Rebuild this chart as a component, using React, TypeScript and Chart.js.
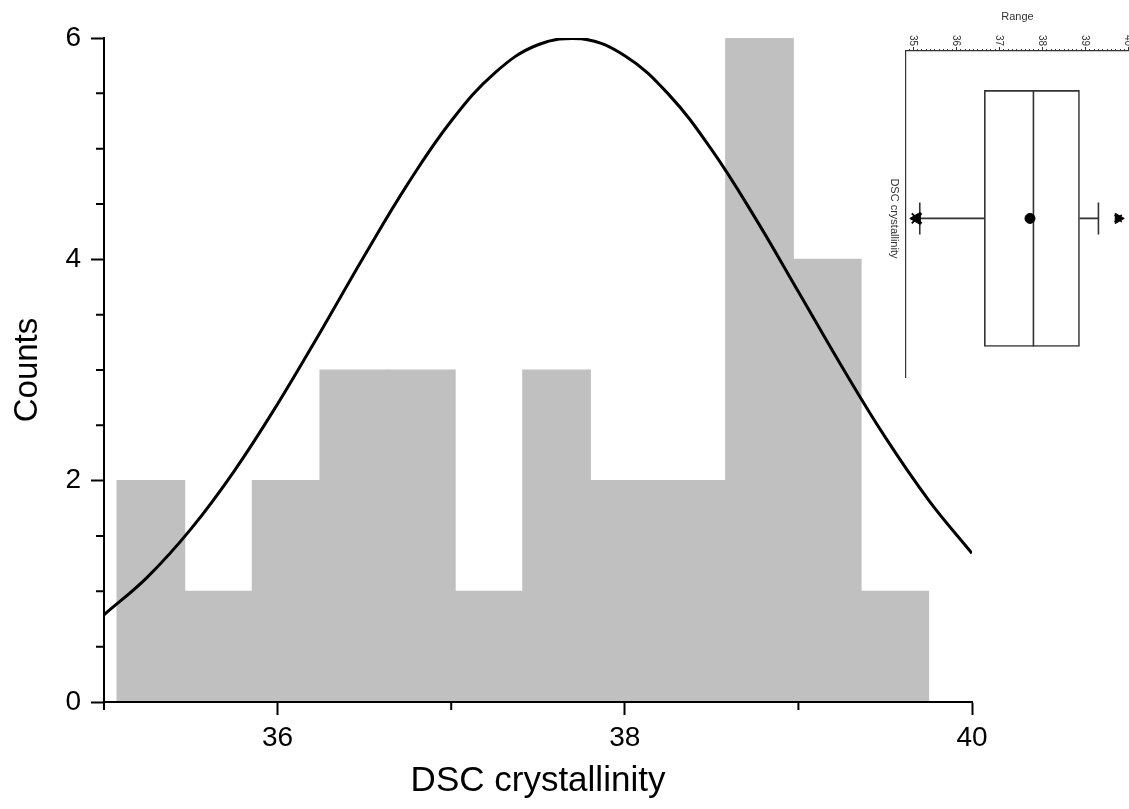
import React, { useEffect, useRef } from 'react';
import { Chart, registerables } from 'chart.js';

Chart.register(...registerables);

// ---------- Data ----------
const BIN_CENTERS = [35.27, 35.66, 36.049, 36.439, 36.828, 37.218, 37.607, 37.997, 38.387, 38.776, 39.166, 39.555];
const BIN_COUNTS = [2, 1, 2, 3, 3, 1, 3, 2, 2, 6, 4, 1];

const CURVE_X = [35, 35.25, 35.5, 35.75, 36, 36.25, 36.5, 36.75, 37, 37.25, 37.5, 37.75, 38, 38.25, 38.5, 38.75, 39, 39.25, 39.5, 39.75, 40];
const CURVE_Y = [0.788, 1.129, 1.562, 2.087, 2.693, 3.353, 4.033, 4.682, 5.25, 5.683, 5.939, 5.994, 5.84, 5.495, 4.991, 4.377, 3.707, 3.032, 2.393, 1.825, 1.343];

const X_MAJOR_TICKS = [36, 38, 40];
const X_MINOR_TICKS = [35, 37, 39];
const Y_MAJOR_TICKS = [0, 2, 4, 6];
const Y_MINOR_TICKS = [0.5, 1, 1.5, 2.5, 3, 3.5, 4.5, 5, 5.5];

// inset box plot statistics
const BOX_Q1 = 36.66;
const BOX_MEDIAN = 37.8;
const BOX_Q3 = 38.87;
const BOX_MEAN = 37.72;
const WHISKER_LOW = 35.16;
const WHISKER_HIGH = 39.31;
const DATA_MIN = 35.09;
const DATA_MAX = 39.77;
const INSET_MAJOR_TICKS = [35, 36, 37, 38, 39, 40];

const FONT = "'Liberation Sans', Arial, Helvetica, sans-serif";

const mainMinorTicks = {
  id: 'mainMinorTicks',
  afterDraw(chart: any) {
    const { ctx, scales } = chart;
    const xs = scales.x;
    const ys = scales.y;
    ctx.save();
    ctx.strokeStyle = '#000';
    ctx.lineWidth = 2;
    ctx.beginPath();
    X_MINOR_TICKS.forEach((v) => {
      const px = xs.getPixelForValue(v);
      ctx.moveTo(px, xs.top);
      ctx.lineTo(px, xs.top + 8);
    });
    Y_MINOR_TICKS.forEach((v) => {
      const py = ys.getPixelForValue(v);
      ctx.moveTo(ys.right, py);
      ctx.lineTo(ys.right - 8, py);
    });
    ctx.stroke();
    ctx.restore();
  },
};

const insetPlugin = {
  id: 'insetBox',
  afterDatasetDraw(chart: any, args: any) {
    if (args.index !== 0) return;
    const { ctx, scales } = chart;
    const xs = scales.x;
    const ys = scales.y;
    const cy = ys.getPixelForValue(1);
    const half = 128;
    const cap = 16;
    ctx.save();
    ctx.strokeStyle = '#333';
    ctx.lineWidth = 1.6;
    ctx.beginPath();
    // median
    const mx = xs.getPixelForValue(BOX_MEDIAN);
    ctx.moveTo(mx, cy - half);
    ctx.lineTo(mx, cy + half);
    // whiskers
    const q1 = xs.getPixelForValue(BOX_Q1);
    const q3 = xs.getPixelForValue(BOX_Q3);
    const wl = xs.getPixelForValue(WHISKER_LOW);
    const wh = xs.getPixelForValue(WHISKER_HIGH);
    ctx.moveTo(q1, cy);
    ctx.lineTo(wl, cy);
    ctx.moveTo(wl, cy - cap);
    ctx.lineTo(wl, cy + cap);
    ctx.moveTo(q3, cy);
    ctx.lineTo(wh, cy);
    ctx.moveTo(wh, cy - cap);
    ctx.lineTo(wh, cy + cap);
    ctx.stroke();
    ctx.restore();
  },
  afterDraw(chart: any) {
    const { ctx, scales } = chart;
    const xs = scales.x;
    const ys = scales.y;
    const axisY = xs.bottom;
    ctx.save();
    ctx.strokeStyle = '#333';
    ctx.lineWidth = 1;
    ctx.beginPath();
    for (let k = 349; k <= 400; k++) {
      const v = k / 10;
      if (v < xs.min || v > xs.max) continue;
      const px = Math.round(xs.getPixelForValue(v)) + 0.5;
      const len = k % 10 === 0 ? 4 : 2;
      ctx.moveTo(px, axisY);
      ctx.lineTo(px, axisY - len);
    }
    ctx.stroke();
    ctx.fillStyle = '#333';
    ctx.font = `10px ${FONT}`;
    INSET_MAJOR_TICKS.forEach((v) => {
      const px = xs.getPixelForValue(v);
      ctx.save();
      ctx.translate(px, axisY - 5);
      ctx.rotate(Math.PI / 2);
      ctx.textAlign = 'right';
      ctx.textBaseline = 'middle';
      ctx.fillText(String(v), 0, 0);
      ctx.restore();
    });
    // rotated category title
    ctx.save();
    ctx.font = `11px ${FONT}`;
    ctx.translate(ys.left + 34, ys.getPixelForValue(1));
    ctx.rotate(Math.PI / 2);
    ctx.textAlign = 'center';
    ctx.textBaseline = 'middle';
    ctx.fillText('DSC crystallinity', 0, 0);
    ctx.restore();
    ctx.restore();
  },
};

export default function App() {
  const mainRef = useRef<HTMLCanvasElement | null>(null);
  const insetRef = useRef<HTMLCanvasElement | null>(null);

  useEffect(() => {
    document.body.style.margin = '0';
    const main = new Chart(mainRef.current as HTMLCanvasElement, {
      type: 'bar',
      data: {
        datasets: [
          {
            type: 'line',
            data: CURVE_X.map((x, i) => ({ x, y: CURVE_Y[i] })),
            borderColor: '#000',
            borderWidth: 3,
            pointRadius: 0,
            tension: 0.4,
            fill: false,
            order: 0,
          } as any,
          {
            type: 'bar',
            data: BIN_CENTERS.map((x, i) => ({ x, y: BIN_COUNTS[i] })),
            backgroundColor: '#c0c0c0',
            borderWidth: 0,
            inflateAmount: 0.6,
            barPercentage: 1,
            categoryPercentage: 1,
            order: 1,
          } as any,
        ],
      },
      options: {
        responsive: false,
        animation: false,
        devicePixelRatio: 1,
        layout: { autoPadding: false, padding: { left: 0, top: 38, right: 157, bottom: 0 } },
        plugins: { legend: { display: false }, tooltip: { enabled: false } },
        scales: {
          x: {
            type: 'linear',
            min: 35,
            max: 40,
            offset: false,
            grid: { display: true, drawOnChartArea: false, offset: false, tickLength: 13, tickWidth: 2, tickColor: '#000' },
            border: { display: true, color: '#000', width: 2, z: 1 },
            ticks: {
              autoSkip: false,
              maxRotation: 0,
              padding: 6,
              color: '#000',
              font: { family: FONT, size: 28 },
              callback: (v: any) => String(v),
            },
            afterBuildTicks: (s: any) => {
              s.ticks = X_MAJOR_TICKS.map((v) => ({ value: v }));
            },
            afterFit: (s: any) => {
              s.height = 107;
            },
            title: {
              display: true,
              text: 'DSC crystallinity',
              color: '#000',
              font: { family: FONT, size: 35 },
              padding: { top: 0, bottom: 7 },
            },
          },
          y: {
            type: 'linear',
            min: 0,
            max: 6,
            offset: false,
            grid: { display: true, drawOnChartArea: false, tickLength: 13, tickWidth: 2, tickColor: '#000' },
            border: { display: true, color: '#000', width: 2, z: 1 },
            ticks: {
              autoSkip: false,
              padding: 10,
              color: '#000',
              font: { family: FONT, size: 28 },
              callback: (v: any) => String(v),
            },
            afterBuildTicks: (s: any) => {
              s.ticks = Y_MAJOR_TICKS.map((v) => ({ value: v }));
            },
            afterFit: (s: any) => {
              s.width = 104;
            },
            title: {
              display: true,
              text: 'Counts',
              color: '#000',
              font: { family: FONT, size: 33 },
              padding: { top: 8, bottom: 0 },
            },
          },
        },
      } as any,
      plugins: [mainMinorTicks],
    });

    const inset = new Chart(insetRef.current as HTMLCanvasElement, {
      type: 'scatter',
      data: {
        datasets: [
          {
            type: 'bar',
            indexAxis: 'y',
            data: [{ x: [BOX_Q1, BOX_Q3], y: 1 }],
            backgroundColor: '#fff',
            borderColor: '#333',
            borderWidth: 1.6,
            borderSkipped: false,
            barThickness: 256,
            order: 5,
          } as any,
          {
            data: [{ x: BOX_MEAN, y: 1 }],
            pointStyle: 'circle',
            pointRadius: 5,
            backgroundColor: '#000',
            borderColor: '#000',
            order: 1,
          },
          {
            data: [{ x: DATA_MIN, y: 1 }],
            pointStyle: 'triangle',
            rotation: -90,
            pointRadius: 7,
            backgroundColor: '#000',
            borderColor: '#000',
            order: 1,
          },
          {
            data: [{ x: DATA_MIN, y: 1 }],
            pointStyle: 'crossRot',
            pointRadius: 7,
            borderWidth: 1.8,
            borderColor: '#000',
            order: 1,
          },
          {
            data: [{ x: DATA_MAX, y: 1 }],
            pointStyle: 'triangle',
            rotation: 90,
            pointRadius: 6,
            backgroundColor: '#000',
            borderColor: '#000',
            order: 1,
          },
          {
            data: [{ x: DATA_MAX, y: 1 }],
            pointStyle: 'crossRot',
            pointRadius: 5,
            borderWidth: 1.6,
            borderColor: '#000',
            order: 1,
          },
        ],
      },
      options: {
        responsive: false,
        animation: false,
        devicePixelRatio: 1,
        layout: { autoPadding: false, padding: 0 },
        plugins: { legend: { display: false }, tooltip: { enabled: false } },
        scales: {
          x: {
            type: 'linear',
            position: 'top',
            min: 34.84,
            max: 40.02,
            offset: false,
            beginAtZero: false,
            grid: { display: false },
            ticks: { display: false },
            border: { display: true, color: '#333', width: 1.2 },
            title: {
              display: true,
              text: 'Range',
              color: '#333',
              font: { family: FONT, size: 11 },
              padding: { top: 10, bottom: 0 },
            },
            afterFit: (s: any) => {
              s.height = 51;
            },
          },
          y: {
            type: 'linear',
            min: 0.512,
            max: 1.512,
            offset: false,
            beginAtZero: false,
            grid: { display: false },
            ticks: { display: false },
            border: { display: true, color: '#333', width: 1.2 },
            afterFit: (s: any) => {
              s.width = 46;
            },
          },
        },
      } as any,
      plugins: [insetPlugin],
    });

    return () => {
      main.destroy();
      inset.destroy();
    };
  }, []);

  return (
    <div style={{ position: 'relative', width: 1129, height: 809, background: '#fff' }}>
      <canvas ref={mainRef} width={1129} height={809} style={{ position: 'absolute', left: 0, top: 0 }} />
      <canvas ref={insetRef} width={269} height={378} style={{ position: 'absolute', left: 860, top: 0 }} />
    </div>
  );
}
